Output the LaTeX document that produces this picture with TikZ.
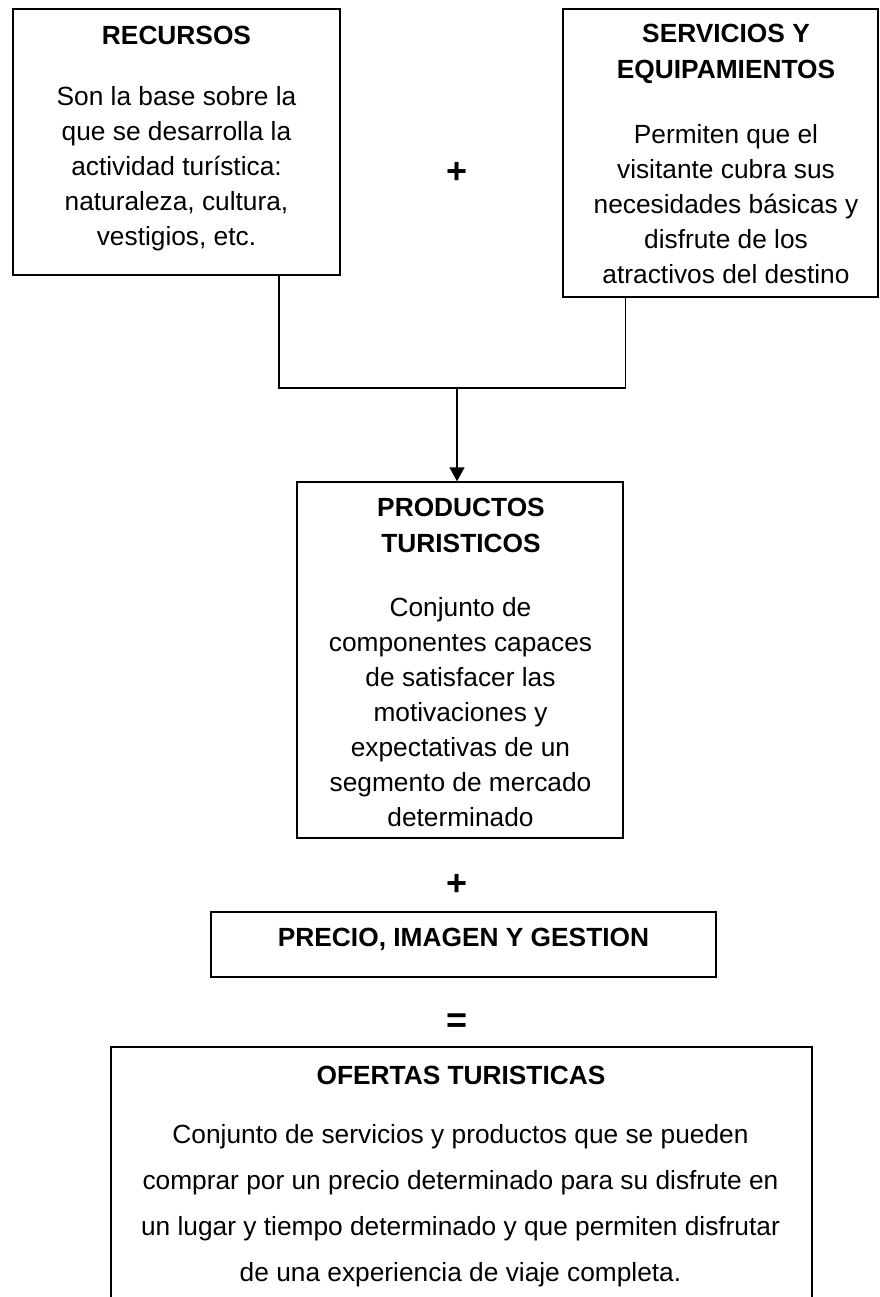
\documentclass[tikz,border=0pt]{standalone}
\usepackage{fontspec}
\setmainfont{Liberation Sans}
\usetikzlibrary{arrows.meta}
\begin{document}
\begin{tikzpicture}[x=1pt,y=-1pt,
  box/.style={draw, line width=1.5pt, inner sep=0pt, rectangle},
  body/.style={align=center, inner sep=0pt, font=\fontsize{26.3}{35}\selectfont},
  widebody/.style={align=center, inner sep=0pt, font=\fontsize{26.3}{46}\selectfont},
  head/.style={align=center, inner sep=0pt, font=\fontsize{26.3}{36}\selectfont\bfseries},
  sign/.style={inner sep=0pt, font=\fontsize{36}{36}\selectfont\bfseries},
  conn/.style={line width=1.5pt},
  ]
\useasboundingbox (0,0) rectangle (879,1297);
\clip (0,0) rectangle (879,1297);

% boxes
\node[box, minimum width=327pt, minimum height=266pt] (rec) at (176.5,142) {};
\node[box, minimum width=315pt, minimum height=288pt] (serv) at (720.5,153) {};
\node[box, minimum width=326pt, minimum height=356pt] (prod) at (460,660) {};
\node[box, minimum width=505pt, minimum height=65pt] (prec) at (463.5,944.5) {};
\node[box, minimum width=701pt, minimum height=290pt] (ofe) at (461.5,1192) {};

% texts
\node[head] (rect) at (176.5,35) {RECURSOS};
\node[body] (recb) at (176.5,168.5) {Son la base sobre la\\que se desarrolla la\\actividad turística:\\naturaleza, cultura,\\vestigios, etc.};

\node[head] (servt) at (726,54) {SERVICIOS Y\\EQUIPAMIENTOS};
\node[body] (servb) at (726,204) {Permiten que el\\visitante cubra sus\\necesidades básicas y\\disfrute de los\\atractivos del destino};

\node[sign] (plus1) at (457,173) {+};

\node[head] (prodt) at (461,525.5) {PRODUCTOS\\TURISTICOS};
\node[body] (prodb) at (460.5,712.5) {Conjunto de\\componentes capaces\\de satisfacer las\\motivaciones y\\expectativas de un\\segmento de mercado\\determinado};

\node[sign] (plus2) at (457,885) {+};
\node[head] (prect) at (463.5,939) {PRECIO, IMAGEN Y GESTION};
\node[sign] (eq) at (457,1023) {=};

\node[head] (ofet) at (461,1075) {OFERTAS TURISTICAS};
\node[widebody] (ofeb) at (460.5,1206) {Conjunto de servicios y productos que se pueden\\comprar por un precio determinado para su disfrute en\\un lugar y tiempo determinado y que permiten disfrutar\\de una experiencia de viaje completa.};

% connectors
\coordinate (j) at (457,388);
\draw[conn] ([xshift=-62pt]rec.south east) |- (j) -| ([xshift=63pt]serv.south west);
\draw[conn, -{Triangle[width=15pt,length=14pt]}] (j) -- (j |- prod.north);
\end{tikzpicture}
\end{document}
